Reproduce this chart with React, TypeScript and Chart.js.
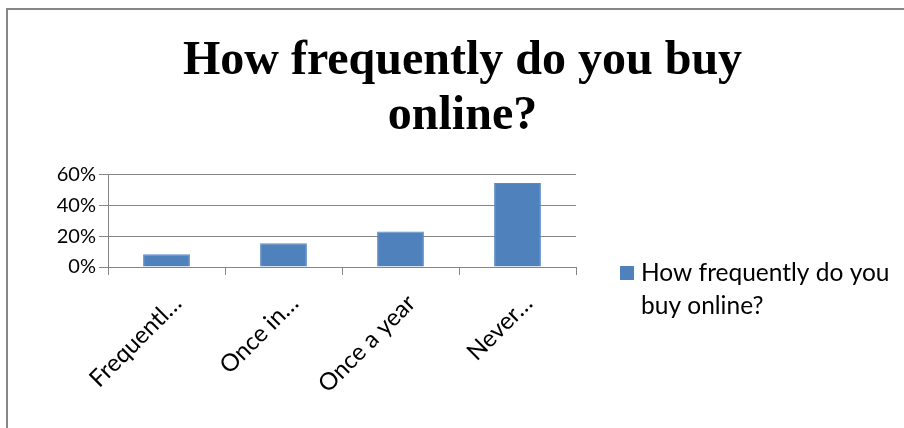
import React, { useEffect, useRef } from "react";
import { Chart, registerables } from "chart.js";

Chart.register(...registerables);

const categories = ["Frequentl…", "Once in…", "Once a year", "Never…"];
const values = [0.082, 0.154, 0.23, 0.545];
const seriesName = "How frequently do you buy online?";
const legendLines = ["How frequently do you", "buy online?"];
const titleLines = ["How frequently do you buy", "online?"];
const yTicks = [0, 0.2, 0.4, 0.6];

const BAR_COLOR = "#4F81BD";
const FONT = "Lato, 'Liberation Sans', sans-serif";

const legendPlugin = {
  id: "customLegend",
  afterDraw(chart: any) {
    const { ctx, chartArea } = chart;
    const size = 24.5;
    const lineH = 33;
    const boxX = chartArea.right + 44;
    const textX = boxX + 21;
    const y0 = chartArea.bottom + 6;
    ctx.save();
    ctx.fillStyle = BAR_COLOR;
    ctx.fillRect(boxX, y0 - 7, 14, 14);
    ctx.fillStyle = "#000";
    ctx.font = `${size}px ${FONT}`;
    ctx.textBaseline = "middle";
    ctx.textAlign = "left";
    legendLines.forEach((line, i) => {
      ctx.fillText(line, textX, y0 + i * lineH);
    });
    ctx.restore();
  },
};

export default function App() {
  const ref = useRef<HTMLCanvasElement | null>(null);
  useEffect(() => {
    if (!ref.current) return;
    const chart = new Chart(ref.current, {
      type: "bar",
      data: {
        labels: categories,
        datasets: [
          {
            label: seriesName,
            data: values,
            backgroundColor: BAR_COLOR,
            borderColor: "#5A8AC6",
            borderWidth: 1,
            categoryPercentage: 1,
            barPercentage: 0.4,
            yAxisID: "y",
          },
        ],
      },
      options: {
        animation: false,
        responsive: false,
        maintainAspectRatio: false,
        layout: { padding: { left: 20, right: 7, top: 0, bottom: 0 } },
        plugins: {
          tooltip: { enabled: false },
          legend: { display: false },
          title: {
            display: true,
            text: titleLines,
            color: "#000",
            font: { family: "'Liberation Serif', 'Times New Roman', serif", size: 48, weight: "bold", lineHeight: 1.15 },
            padding: { top: 24, bottom: 30 },
          },
        },
        scales: {
          x: {
            grid: {
              display: true,
              drawOnChartArea: false,
              drawTicks: true,
              tickLength: 8,
              color: "#868686",
              offset: true,
            },
            border: { color: "#868686", width: 1 },
            ticks: {
              color: "#000",
              font: { family: FONT, size: 24 },
              minRotation: 45,
              maxRotation: 45,
              autoSkip: false,
              labelOffset: 11,
              padding: 14,
            },
            afterFit: (s: any) => {
              s.height = 161;
            },
          },
          y: {
            min: 0,
            max: 0.6,
            afterBuildTicks: (axis: any) => {
              axis.ticks = yTicks.map((v) => ({ value: v }));
            },
            grid: {
              color: "#868686",
              tickLength: 9,
              drawTicks: true,
            },
            border: { color: "#868686", width: 1 },
            ticks: {
              color: "#000",
              font: { family: FONT, size: 20 },
              padding: 3,
              callback: (v: any) => Math.round(Number(v) * 100) + "%",
            },
            afterFit: (s: any) => {
              s.width = 80;
            },
          },
          y2: {
            position: "right",
            display: true,
            grid: { display: false, drawTicks: false },
            border: { display: false },
            ticks: { display: false },
            afterFit: (s: any) => {
              s.width = 321;
            },
          },
        },
      },
      plugins: [legendPlugin],
    });
    return () => chart.destroy();
  }, []);
  return (
    <div
      style={{
        position: "absolute",
        left: 6,
        top: 8,
        width: 896,
        height: 418,
        borderLeft: "2px solid #878787",
        borderTop: "2px solid #878787",
        background: "#fff",
      }}
    >
      <canvas ref={ref} width={896} height={418} style={{ display: "block", width: 896, height: 418 }} />
    </div>
  );
}
